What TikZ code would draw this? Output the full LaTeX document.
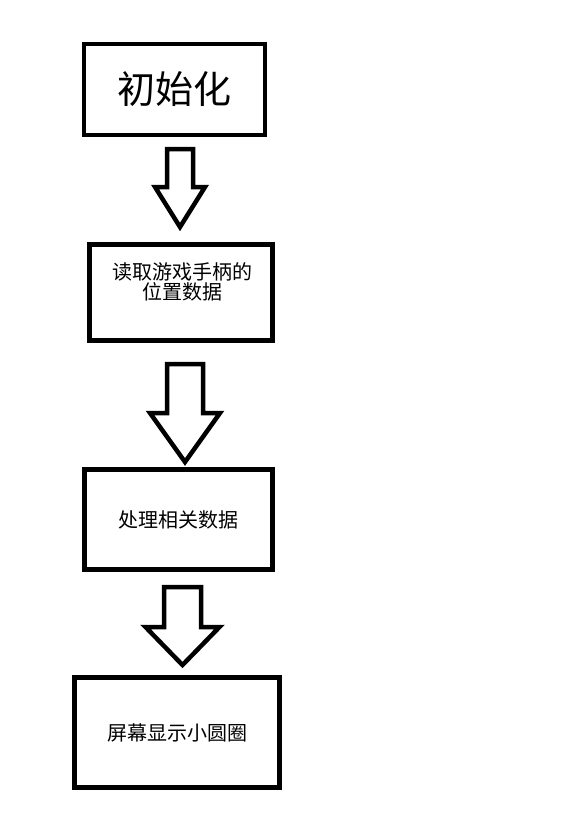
\documentclass[tikz,border=0pt]{standalone}
\usepackage{fontspec}
\newfontfamily\cjk{Noto Sans CJK SC}
\usetikzlibrary{calc}

\tikzset{
  stepbox/.style={draw,line width=4.5pt,outer sep=0pt,inner sep=0pt,
    align=center,font=\cjk\fontsize{20}{20}\selectfont},
  steptext/.style={align=center,inner sep=0pt,font=\cjk\fontsize{20}{20}\selectfont},
  bigarrow/.style={draw,line width=4.5pt,line join=miter,fill=white},
}

% hollow block arrow: from, to, x axis, gap top, gap bottom, shaft half, head half, head length
\newcommand{\flowarrow}[8]{%
  \draw[bigarrow] let \p1=(#1.south), \p2=(#2.north) in
    (#3pt-#6pt,\y1-#4pt) -- (#3pt+#6pt,\y1-#4pt)
    -- (#3pt+#6pt,\y2+#5pt+#8pt) -- (#3pt+#7pt,\y2+#5pt+#8pt)
    -- (#3pt,\y2+#5pt) -- (#3pt-#7pt,\y2+#5pt+#8pt)
    -- (#3pt-#6pt,\y2+#5pt+#8pt) -- cycle;}

\begin{document}
\begin{tikzpicture}[x=1pt,y=-1pt]
  \useasboundingbox (0,0) rectangle (576,840);

  \node[stepbox,line width=4pt,minimum width=181pt,minimum height=91pt,
        font=\cjk\fontsize{38}{38}\selectfont] (init) at (174.5,89.5) {初始化};
  \node[stepbox,minimum width=183pt,minimum height=96pt] (read) at (181,292.5) {};
  \node[steptext] (readtext) at (182.5,281.5) {读取游戏手柄的\\位置数据};
  \node[stepbox,minimum width=188pt,minimum height=100pt] (proc) at (178.5,519.5) {处理相关数据};
  \node[stepbox,minimum width=205pt,minimum height=110pt] (show) at (177,732.5) {屏幕显示小圆圈};

  \flowarrow{init}{read}{180}{14}{17.5}{13}{25}{40}
  \flowarrow{read}{proc}{185}{23.5}{7.5}{18}{35}{49}
  \flowarrow{proc}{show}{182.5}{17.5}{12.5}{18.5}{37}{38}
\end{tikzpicture}
\end{document}
